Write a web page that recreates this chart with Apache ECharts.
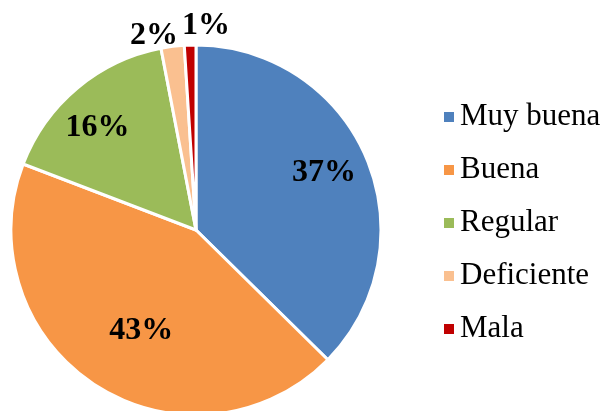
<!DOCTYPE html>
<html>
<head>
<meta charset="utf-8">
<script src="https://cdn.jsdelivr.net/npm/echarts@6/dist/echarts.min.js"></script>
<style>html,body{margin:0;padding:0;background:#fff}#c{width:607px;height:411px}</style>
</head>
<body>
<div id="c"></div>
<script>
const categories = ['Muy buena', 'Buena', 'Regular', 'Deficiente', 'Mala'];
const values = [37, 43, 16, 2, 1];
const colors = ['#4F81BD', '#F79646', '#9BBB59', '#FAC090', '#C00000'];
const labelOffsets = [[40, -20], [-3, 20], [-37, -29], [-30, -100], [13, -109]];

const chart = echarts.init(document.getElementById('c'));
chart.setOption({
  animation: false,
  legend: {
    orient: 'vertical',
    left: 437,
    top: 96,
    itemWidth: 12,
    itemHeight: 12,
    itemGap: 21,
    icon: 'rect',
    data: categories,
    textStyle: { fontFamily: 'Liberation Serif', fontSize: 31, color: '#000', lineHeight: 32 }
  },
  series: [{
    type: 'pie',
    center: [196, 230],
    radius: 185,
    startAngle: 90,
    clockwise: true,
    avoidLabelOverlap: false,
    itemStyle: { borderColor: '#fff', borderWidth: 3 },
    label: {
      position: 'inside',
      formatter: '{c}%',
      fontFamily: 'Liberation Serif',
      fontWeight: 'bold',
      fontSize: 32,
      color: '#000'
    },
    labelLine: { show: false },
    data: categories.map((n, i) => ({
      name: n,
      value: values[i],
      itemStyle: { color: colors[i] },
      label: { offset: labelOffsets[i] }
    }))
  }]
});
</script>
</body>
</html>
